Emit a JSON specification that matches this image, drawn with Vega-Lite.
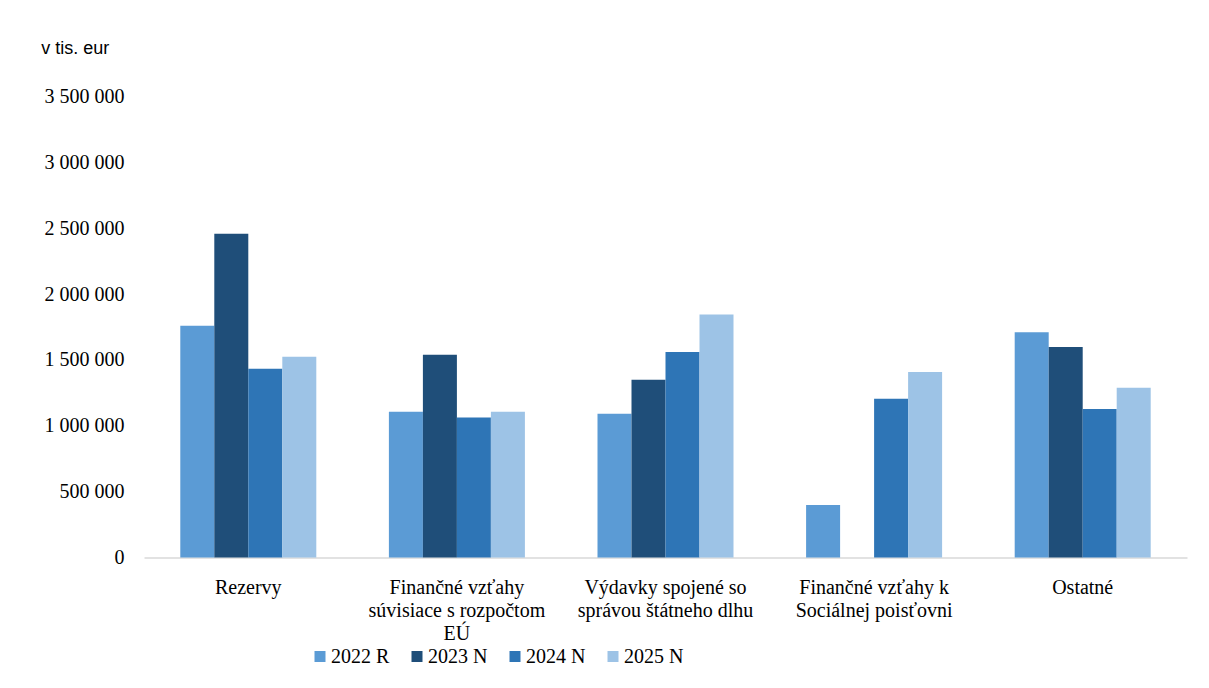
{
  "$schema": "https://vega.github.io/schema/vega-lite/v6.json",
  "autosize": {"type": "none"},
  "padding": {"left": 144, "top": 96.5, "right": 22, "bottom": 130.5},
  "width": 1043,
  "height": 461,
  "background": "white",
  "data": {
    "values": [
      {"kategoria": "Rezervy", "rok": "2022 R", "hodnota": 1759000},
      {"kategoria": "Rezervy", "rok": "2023 N", "hodnota": 2458000},
      {"kategoria": "Rezervy", "rok": "2024 N", "hodnota": 1433000},
      {"kategoria": "Rezervy", "rok": "2025 N", "hodnota": 1524000},
      {"kategoria": "Finančné vzťahy súvisiace s rozpočtom EÚ", "rok": "2022 R", "hodnota": 1106000},
      {"kategoria": "Finančné vzťahy súvisiace s rozpočtom EÚ", "rok": "2023 N", "hodnota": 1539000},
      {"kategoria": "Finančné vzťahy súvisiace s rozpočtom EÚ", "rok": "2024 N", "hodnota": 1063000},
      {"kategoria": "Finančné vzťahy súvisiace s rozpočtom EÚ", "rok": "2025 N", "hodnota": 1106000},
      {"kategoria": "Výdavky spojené so správou štátneho dlhu", "rok": "2022 R", "hodnota": 1091000},
      {"kategoria": "Výdavky spojené so správou štátneho dlhu", "rok": "2023 N", "hodnota": 1349000},
      {"kategoria": "Výdavky spojené so správou štátneho dlhu", "rok": "2024 N", "hodnota": 1560000},
      {"kategoria": "Výdavky spojené so správou štátneho dlhu", "rok": "2025 N", "hodnota": 1845000},
      {"kategoria": "Finančné vzťahy k Sociálnej poisťovni", "rok": "2022 R", "hodnota": 398000},
      {"kategoria": "Finančné vzťahy k Sociálnej poisťovni", "rok": "2024 N", "hodnota": 1205000},
      {"kategoria": "Finančné vzťahy k Sociálnej poisťovni", "rok": "2025 N", "hodnota": 1408000},
      {"kategoria": "Ostatné", "rok": "2022 R", "hodnota": 1711000},
      {"kategoria": "Ostatné", "rok": "2023 N", "hodnota": 1598000},
      {"kategoria": "Ostatné", "rok": "2024 N", "hodnota": 1127000},
      {"kategoria": "Ostatné", "rok": "2025 N", "hodnota": 1289000}
    ]
  },
  "mark": {"type": "bar"},
  "encoding": {
    "x": {
      "field": "kategoria",
      "type": "nominal",
      "sort": ["Rezervy", "Finančné vzťahy súvisiace s rozpočtom EÚ", "Výdavky spojené so správou štátneho dlhu", "Finančné vzťahy k Sociálnej poisťovni", "Ostatné"],
      "scale": {"paddingInner": 0.348, "paddingOuter": 0.174},
      "axis": {
        "title": null,
        "labelAngle": 0,
        "labelFont": "Liberation Serif",
        "labelFontSize": 20,
        "labelColor": "#000000",
        "labelPadding": 20,
        "labelLineHeight": 23,
        "labelBaseline": "top",
        "labelLimit": 300,
        "ticks": false,
        "domainColor": "#d9d9d9",
        "domainWidth": 1.5,
        "labelExpr": "datum.label == 'Finančné vzťahy súvisiace s rozpočtom EÚ' ? ['Finančné vzťahy', 'súvisiace s rozpočtom', 'EÚ'] : datum.label == 'Výdavky spojené so správou štátneho dlhu' ? ['Výdavky spojené so', 'správou štátneho dlhu'] : datum.label == 'Finančné vzťahy k Sociálnej poisťovni' ? ['Finančné vzťahy k', 'Sociálnej poisťovni'] : datum.label"
      }
    },
    "xOffset": {
      "field": "rok",
      "type": "nominal",
      "sort": ["2022 R", "2023 N", "2024 N", "2025 N"],
      "scale": {"domain": ["2022 R", "2023 N", "2024 N", "2025 N"], "paddingInner": 0, "paddingOuter": 0}
    },
    "y": {
      "field": "hodnota",
      "type": "quantitative",
      "scale": {"domain": [0, 3500000], "nice": false},
      "axis": {
        "title": "v tis. eur",
        "titleAngle": 0,
        "titleAlign": "left",
        "titleBaseline": "alphabetic",
        "titleX": -103.3,
        "titleY": -43.5,
        "titleFont": "Liberation Sans",
        "titleFontSize": 18,
        "titleFontWeight": "normal",
        "titleColor": "#000000",
        "values": [0, 500000, 1000000, 1500000, 2000000, 2500000, 3000000, 3500000],
        "labelExpr": "replace(format(datum.value, ','), regexp(',', 'g'), ' ')",
        "labelFont": "Liberation Serif",
        "labelFontSize": 20,
        "labelColor": "#000000",
        "labelPadding": 20,
        "ticks": false,
        "domain": false,
        "grid": false
      }
    },
    "color": {
      "field": "rok",
      "type": "nominal",
      "scale": {"domain": ["2022 R", "2023 N", "2024 N", "2025 N"], "range": ["#5b9bd5", "#1f4e79", "#2e75b6", "#9dc3e6"]},
      "legend": {
        "title": null,
        "orient": "none",
        "direction": "horizontal",
        "legendX": 166,
        "legendY": 550,
        "padding": 0,
        "symbolType": "square",
        "symbolSize": 121,
        "symbolStrokeWidth": 0,
        "symbolOpacity": 1,
        "labelFont": "Liberation Serif",
        "labelFontSize": 20,
        "labelColor": "#000000",
        "labelOffset": 1,
        "columnPadding": 17
      }
    }
  },
  "config": {
    "view": {"stroke": null}
  }
}
